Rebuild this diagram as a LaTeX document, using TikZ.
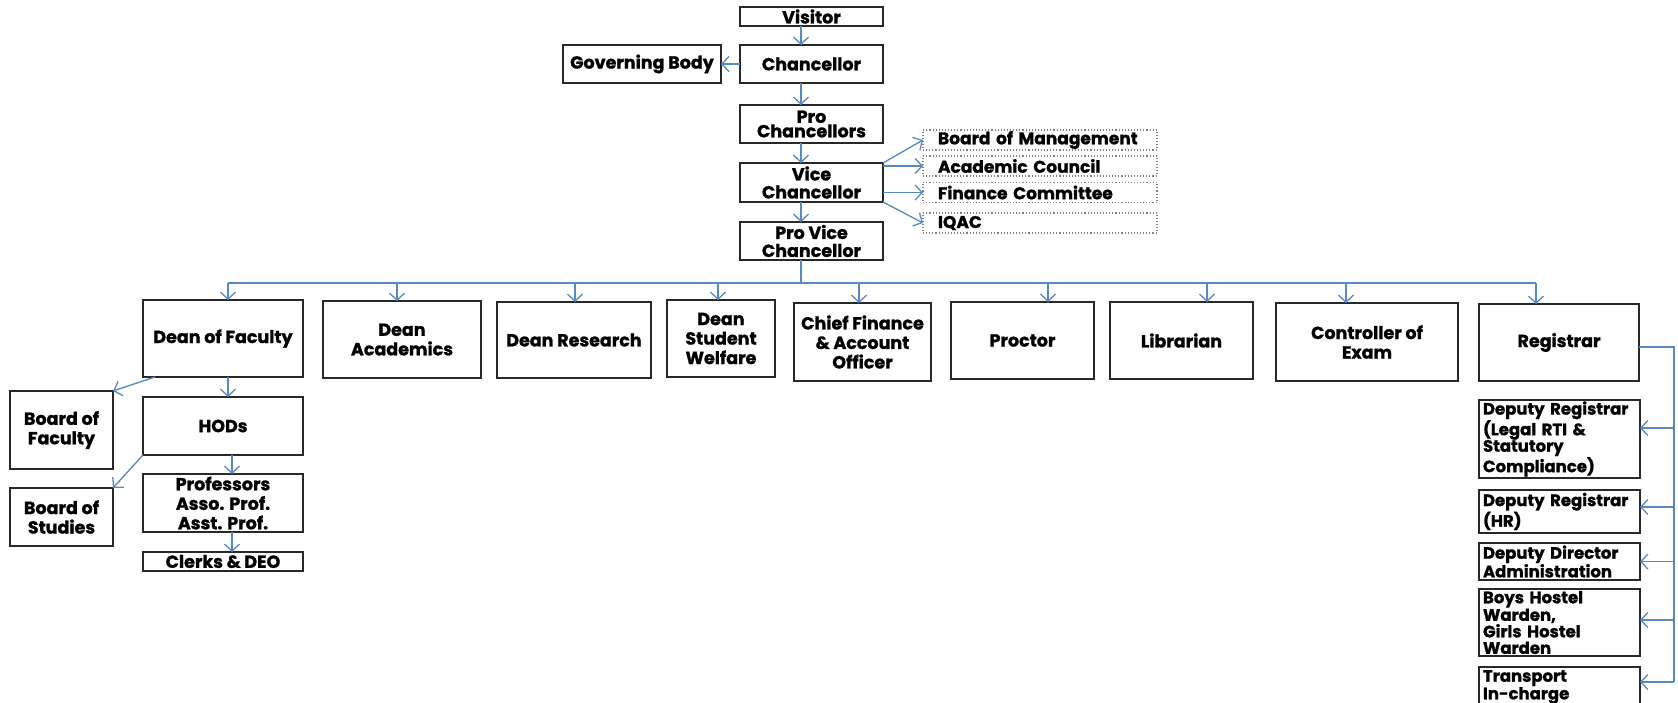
\documentclass[tikz,border=0pt]{standalone}
\usepackage{fontspec}
\setmainfont{Poppins}[BoldFeatures={FakeBold=1.2}]
\usetikzlibrary{arrows.meta,calc}
\definecolor{conn}{RGB}{88,136,196}
\definecolor{boxline}{RGB}{40,40,40}
\tikzset{
  box/.style={draw=boxline, line width=1.6pt, inner sep=0pt, outer sep=0pt, align=center,
    font=\bfseries\fontsize{17.5}{19.5}\selectfont, text=black},
  dbox/.style={draw=gray, dotted, line width=1.1pt, inner ysep=0pt, inner xsep=15pt, outer sep=0pt,
    text width=204pt, align=left, font=\bfseries\fontsize{17}{17}\selectfont, text=black},
  rbox/.style={draw=boxline, line width=1.6pt, inner ysep=0pt, inner xsep=4pt, outer sep=0pt,
    text width=153pt, align=left, font=\bfseries\fontsize{16.5}{16.5}\selectfont, text=black},
  line/.style={draw=conn, line width=1.3pt},
  arr/.style={line, -{Straight Barb[length=7pt,width=15pt,line width=1.3pt]}},
}
\begin{document}
\begin{tikzpicture}[x=1pt,y=-1pt]
\useasboundingbox[fill=white] (0,0) rectangle (1678,703);
% top column
\node[box, minimum width=143, minimum height=19] (visitor) at (811.5,16.5) {Visitor};
\node[box, minimum width=143, minimum height=38] (chanc) at (811.5,64) {Chancellor};
\node[box, minimum width=158, minimum height=38] (gov) at (642,64) {Governing Body};
\node[box, minimum width=143, minimum height=38, font=\bfseries\fontsize{17.5}{14.5}\selectfont] (prochanc) at (811.5,124) {Pro\\Chancellors};
\node[box, minimum width=143, minimum height=39, font=\bfseries\fontsize{17.5}{18}\selectfont] (vc) at (811.5,182.5) {Vice\\Chancellor};
\node[box, minimum width=143, minimum height=38, font=\bfseries\fontsize{17.5}{18}\selectfont] (pvc) at (811.5,241) {Pro Vice\\Chancellor};
% dashed committees
\node[dbox, minimum height=20] (bom) at (1040,140) {Board of Management};
\node[dbox, minimum height=20] (ac) at (1040,166) {Academic Council};
\node[dbox, minimum height=20] (fc) at (1040,192.5) {Finance Committee};
\node[dbox, minimum height=20] (iqac) at (1040,223) {IQAC};
% second level
\node[box, minimum width=160, minimum height=77] (dof) at (223,338.5) {Dean of Faculty};
\node[box, minimum width=158, minimum height=77] (dacad) at (402,339.5) {Dean\\Academics};
\node[box, minimum width=154, minimum height=76] (dres) at (574,340) {Dean Research};
\node[box, minimum width=108, minimum height=77] (dsw) at (721,338.5) {Dean\\Student\\Welfare};
\node[box, minimum width=137, minimum height=78] (cfo) at (862.5,342) {Chief Finance\\\& Account\\Officer};
\node[box, minimum width=143, minimum height=77] (proctor) at (1022.5,340.5) {Proctor};
\node[box, minimum width=143, minimum height=77] (lib) at (1181.5,340.5) {Librarian};
\node[box, minimum width=182, minimum height=78] (coe) at (1367,342) {Controller of\\Exam};
\node[box, minimum width=160, minimum height=77] (reg) at (1559,342.5) {Registrar};
% faculty branch
\node[box, minimum width=103, minimum height=78] (bof) at (61.5,430) {Board of\\Faculty};
\node[box, minimum width=160, minimum height=58] (hods) at (223,426) {HODs};
\node[box, minimum width=160, minimum height=58] (profs) at (223,503) {Professors\\Asso. Prof.\\Asst. Prof.};
\node[box, minimum width=160, minimum height=19] (clerks) at (223,561.5) {Clerks \& DEO};
\node[box, minimum width=103, minimum height=58] (bos) at (61.5,517) {Board of\\Studies};
% registrar branch
\node[rbox, minimum height=78] (drl) at (1559.5,439) {Deputy Registrar\\(Legal RTI \&\\Statutory\\Compliance)};
\node[rbox, minimum height=43] (drhr) at (1559.5,511.5) {Deputy Registrar\\(HR)};
\node[rbox, minimum height=37, font=\bfseries\fontsize{16.5}{14}\selectfont] (dd) at (1559.5,561.5) {Deputy Director\\Administration};
\node[rbox, minimum height=67] (boys) at (1559.5,622.5) {Boys Hostel\\Warden,\\Girls Hostel\\Warden};
\node[rbox, minimum height=40, font=\bfseries\fontsize{16.5}{14}\selectfont] (trans) at (1559.5,687) {Transport\\In-charge};
% connectors: top column
\draw[arr] ([xshift=-10.5]visitor.south) -- ([xshift=-10.5]chanc.north);
\draw[arr] (chanc.west) -- (gov.east);
\draw[arr] ([xshift=-10.5]chanc.south) -- ([xshift=-10.5]prochanc.north);
\draw[arr] ([xshift=-10.5]prochanc.south) -- ([xshift=-10.5]vc.north);
\draw[arr] ([xshift=-10.5]vc.south) -- ([xshift=-10.5]pvc.north);
\draw[arr] (vc.north east) -- (bom.west);
\draw[arr] (ac.west -| vc.east) -- (ac.west);
\draw[arr] (fc.west -| vc.east) -- (fc.west);
\draw[arr] (vc.south east) -- (iqac.west);
% bus
\coordinate (busL) at (228,283);
\coordinate (busR) at (1536,283);
\draw[line] (busL) -- (busR);
\draw[line] ([xshift=-10.5]pvc.south) -- ([xshift=-10.5]pvc.south |- busL);
\draw[arr] ([xshift=5]dof.north |- busL) -- ([xshift=5]dof.north);
\draw[arr] ([xshift=-5]dacad.north |- busL) -- ([xshift=-5]dacad.north);
\draw[arr] ([xshift=1]dres.north |- busL) -- ([xshift=1]dres.north);
\draw[arr] ([xshift=-3]dsw.north |- busL) -- ([xshift=-3]dsw.north);
\draw[arr] ([xshift=-3.5]cfo.north |- busL) -- ([xshift=-3.5]cfo.north);
\draw[arr] ([xshift=25.5]proctor.north |- busL) -- ([xshift=25.5]proctor.north);
\draw[arr] ([xshift=25.5]lib.north |- busL) -- ([xshift=25.5]lib.north);
\draw[arr] ([xshift=-21]coe.north |- busL) -- ([xshift=-21]coe.north);
\draw[arr] ([xshift=-23]reg.north |- busL) -- ([xshift=-23]reg.north);
% faculty branch connectors
\draw[arr] ([xshift=5]dof.south) -- ([xshift=5]hods.north);
\draw[arr] ([xshift=9]hods.south) -- ([xshift=9]profs.north);
\draw[arr] ([xshift=9]profs.south) -- ([xshift=9]clerks.north);
\draw[arr] ([xshift=12]dof.south west) -- (bof.north east);
\draw[arr] (hods.south west) -- (bos.north east);
% registrar branch connectors
\coordinate (rv) at (1674,347);
\coordinate (rvEnd) at (1674,682);
\coordinate (drlE) at ([yshift=11]drl.east);
\coordinate (drhrE) at ([yshift=4.5]drhr.east);
\coordinate (boysE) at ([yshift=2.5]boys.east);
\draw[line] (reg.east |- rv) -- (rv) -- (rvEnd);
\draw[arr] (rv |- drlE) -- (drlE);
\draw[arr] (rv |- drhrE) -- (drhrE);
\draw[arr] (rv |- dd.east) -- (dd.east);
\draw[arr] (rv |- boysE) -- (boysE);
\draw[arr] (rvEnd) -- (rvEnd -| trans.east);
\end{tikzpicture}
\end{document}
